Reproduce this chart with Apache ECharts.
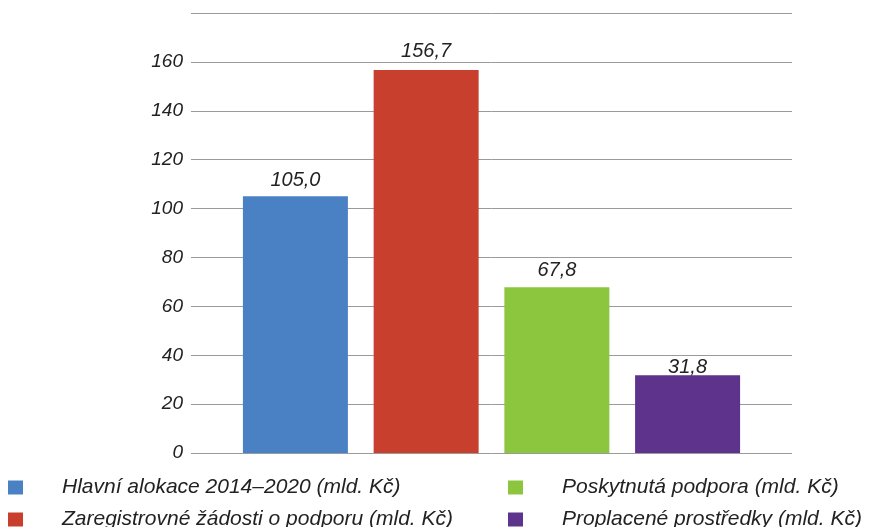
<!DOCTYPE html>
<html>
<head>
<meta charset="utf-8">
<script src="https://cdn.jsdelivr.net/npm/echarts@6/dist/echarts.min.js"></script>
<style>
html,body{margin:0;padding:0;background:#fff;}
#chart{width:870px;height:527px;}
</style>
</head>
<body>
<div id="chart"></div>
<script>
var seriesNames = [
  'Hlavní alokace 2014–2020 (mld. Kč)',
  'Zaregistrovné žádosti o podporu (mld. Kč)',
  'Poskytnutá podpora (mld. Kč)',
  'Proplacené prostředky (mld. Kč)'
];
var seriesValues = [105.0, 156.7, 67.8, 31.8];
var seriesColors = ['#4a81c4', '#c8402d', '#8cc63f', '#5d338b'];
var yTicks = [0, 20, 40, 60, 80, 100, 120, 140, 160, 180];

var FONT = '"Liberation Sans", Arial, sans-serif';
var chart = echarts.init(document.getElementById('chart'));

var labelDistances = [5.5, 9, 7, -2];
var legendPos = [[8, 477], [8, 509], [508, 477], [508, 509]];

var series = seriesNames.map(function (n, i) {
  return {
    name: n,
    type: 'bar',
    data: [seriesValues[i]],
    barWidth: 105,
    barGap: '24.5%',
    itemStyle: { color: seriesColors[i] },
    label: {
      show: true,
      position: 'top',
      distance: labelDistances[i],
      fontFamily: FONT,
      fontStyle: 'italic',
      fontSize: 20,
      color: '#222',
      formatter: function (p) { return p.value.toFixed(1).replace('.', ','); }
    }
  };
});

var legends = seriesNames.map(function (n, i) {
  return {
    data: [n],
    left: legendPos[i][0],
    top: legendPos[i][1],
    padding: 0,
    icon: 'rect',
    itemWidth: 15,
    itemHeight: 14,
    selectedMode: false,
    textStyle: {
      fontFamily: FONT,
      fontStyle: 'italic',
      fontSize: 21,
      color: '#222',
      padding: [0, 0, 0, 34]
    }
  };
});

chart.setOption({
  animation: false,
  grid: { left: 191, right: 78, top: 13, bottom: 74 },
  legend: legends,
  xAxis: {
    type: 'category',
    data: [''],
    axisLine: { show: false },
    axisTick: { show: false },
    axisLabel: { show: false }
  },
  yAxis: {
    type: 'value',
    min: yTicks[0],
    max: yTicks[yTicks.length - 1],
    interval: yTicks[1] - yTicks[0],
    axisLine: { show: false },
    axisTick: { show: false },
    axisLabel: {
      showMaxLabel: false,
      margin: 8,
      fontFamily: FONT,
      fontStyle: 'italic',
      fontSize: 19,
      color: '#222'
    },
    splitLine: { lineStyle: { color: '#9a9a9a', width: 1 } }
  },
  series: series
});
</script>
</body>
</html>
